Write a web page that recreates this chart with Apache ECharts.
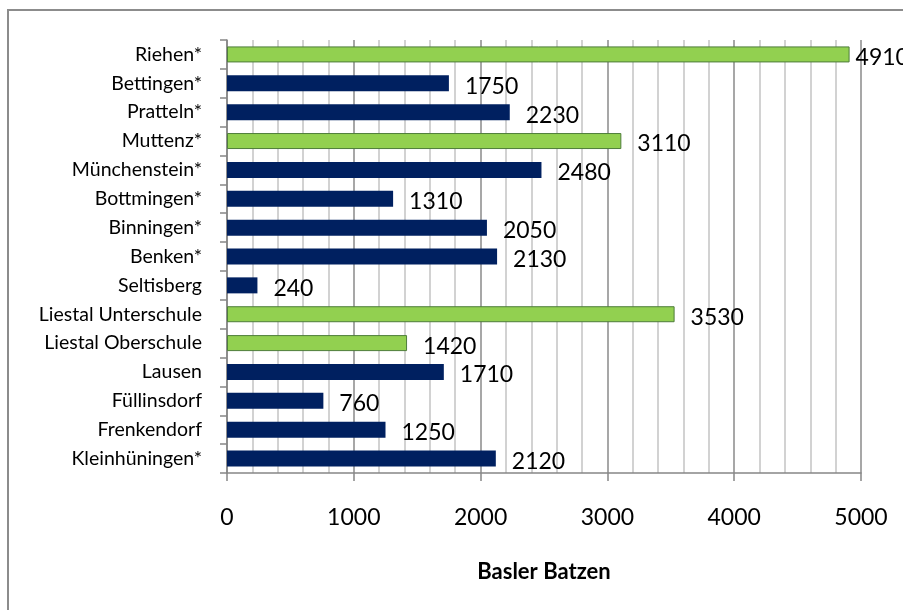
<!DOCTYPE html>
<html>
<head>
<meta charset="utf-8">
<style>
  html, body { margin: 0; padding: 0; background: #ffffff; }
  #chart { width: 903px; height: 610px; }
</style>
<script src="https://cdn.jsdelivr.net/npm/echarts@6/dist/echarts.min.js"></script>
</head>
<body>
<div id="chart"></div>
<script>
// ---- data ----
const categories = [
  'Riehen*', 'Bettingen*', 'Pratteln*', 'Muttenz*', 'Münchenstein*',
  'Bottmingen*', 'Binningen*', 'Benken*', 'Seltisberg', 'Liestal Unterschule',
  'Liestal Oberschule', 'Lausen', 'Füllinsdorf', 'Frenkendorf', 'Kleinhüningen*'
];
const values = [4910, 1750, 2230, 3110, 2480, 1310, 2050, 2130, 240, 3530, 1420, 1710, 760, 1250, 2120];
const highlighted = [true, false, false, true, false, false, false, false, false, true, true, false, false, false, false];
const xTicks = [0, 1000, 2000, 3000, 4000, 5000];
const axisTitle = 'Basler Batzen';

// ---- styles ----
const NAVY = '#002060';
const GREEN = '#92d050';
const FONT = 'Lato, "Open Sans", sans-serif';

const seriesData = values.map((v, i) => {
  const item = {
    value: v,
    itemStyle: highlighted[i]
      ? { color: GREEN, borderColor: '#4e7d3a', borderWidth: 1 }
      : { color: NAVY }
  };
  if (v >= 4500) item.label = { distance: 6 };
  return item;
});

const chart = echarts.init(document.getElementById('chart'), null, { renderer: 'canvas' });
chart.setOption({
  backgroundColor: '#ffffff',
  animation: false,
  graphic: [{
    type: 'rect',
    shape: { x: 8, y: 10, width: 1000, height: 700 },
    style: { fill: 'none', stroke: '#8c8c8c', lineWidth: 2 },
    silent: true,
    z: -10
  }],
  grid: { left: 227, right: 42, top: 40, bottom: 137, containLabel: false },
  xAxis: {
    type: 'value',
    min: xTicks[0],
    max: xTicks[xTicks.length - 1],
    interval: 1000,
    minorTick: { show: false, splitNumber: 5 },
    minorSplitLine: { show: true, lineStyle: { color: '#c4c4c4', width: 1.5 } },
    splitLine: { show: true, lineStyle: { color: '#8a8a8a', width: 1.5 } },
    axisLine: { show: true, lineStyle: { color: '#868686', width: 1.5 } },
    axisTick: { show: true, length: 8, inside: false, lineStyle: { color: '#868686', width: 1.5 } },
    axisLabel: { margin: 33, color: '#000000', fontFamily: FONT, fontSize: 23,
      formatter: v => String(v) },
    name: axisTitle,
    nameLocation: 'middle',
    nameGap: 88,
    nameTextStyle: { color: '#000000', fontFamily: FONT, fontSize: 22, fontWeight: 'bold' }
  },
  yAxis: {
    type: 'category',
    data: categories,
    inverse: true,
    axisLine: { show: true, lineStyle: { color: '#868686', width: 1.5 } },
    axisTick: { show: true, length: 7, alignWithLabel: false, lineStyle: { color: '#868686', width: 1.5 } },
    axisLabel: { margin: 25, color: '#000000', fontFamily: FONT, fontSize: 19.5, interval: 0 },
    splitLine: { show: false }
  },
  series: [{
    type: 'bar',
    data: seriesData,
    barWidth: 16,
    label: {
      show: true,
      position: 'right',
      distance: 16,
      offset: [0, 3],
      color: '#000000',
      fontFamily: FONT,
      fontSize: 23
    }
  }]
});
</script>
</body>
</html>
